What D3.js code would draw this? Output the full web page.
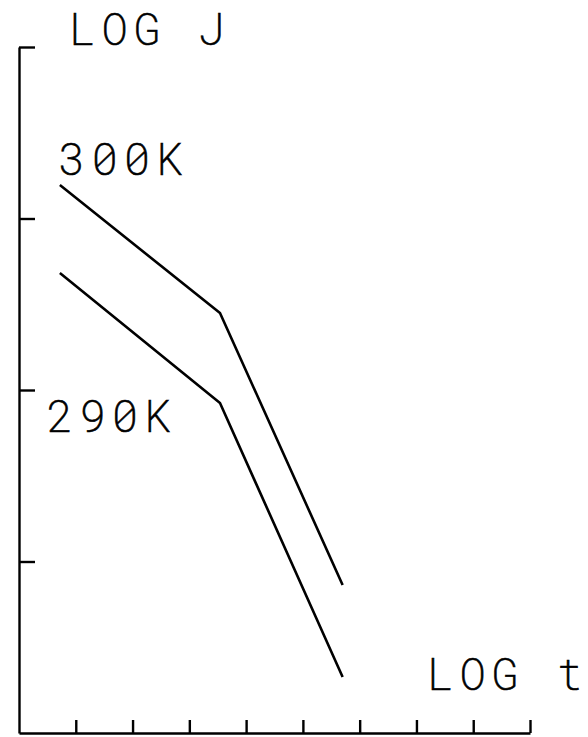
<!DOCTYPE html>
<html><head><meta charset="utf-8">
<script src="https://cdn.jsdelivr.net/npm/d3@7"></script>
<style>html,body{margin:0;padding:0;background:#fff}</style>
</head><body>
<script>
// Data (axis units: x in tick steps of LOG t, y in tick steps of LOG J)
const seriesNames = ["300K", "290K"];
const logT = [0.72, 3.54, 5.7];
const logJ300 = [3.195, 2.449, 0.863];
const logJ290 = [2.682, 1.924, 0.327];
const xTicks = [1, 2, 3, 4, 5, 6, 7, 8, 9];
const yTicks = [1, 2, 3, 4];

const W = 588, H = 737;
const svg = d3.select("body").append("svg").attr("width", W).attr("height", H);
const x = d3.scaleLinear().domain([0, 9]).range([19, 530]);
const y = d3.scaleLinear().domain([0, 4]).range([733, 47]);

const font = "'Roboto Mono', 'Noto Sans Mono', 'DejaVu Sans Mono', monospace";

const xAxis = svg.append("g").attr("transform", `translate(0,${y(0)})`)
  .call(d3.axisBottom(x).tickValues(xTicks).tickSize(-13).tickSizeOuter(0).tickFormat(""));
const yAxis = svg.append("g").attr("transform", `translate(${x(0)},0)`)
  .call(d3.axisLeft(y).tickValues(yTicks).tickSize(-16).tickSizeOuter(0).tickFormat(""));
[xAxis, yAxis].forEach(g => {
  g.selectAll("path,line").attr("stroke", "#000").attr("stroke-width", 2.4);
});

const line = d3.line().x(d => x(d[0])).y(d => y(d[1]));
[logJ300, logJ290].forEach(vals => {
  svg.append("path").datum(logT.map((t, i) => [t, vals[i]]))
    .attr("d", line).attr("fill", "none").attr("stroke", "#000")
    .attr("stroke-width", 2.6).attr("stroke-linejoin", "round");
});

function label(txt, xx, yy) {
  svg.append("text").attr("x", xx).attr("y", yy).text(txt)
    .attr("font-family", font).attr("font-size", 44).attr("font-weight", 200)
    .attr("letter-spacing", 6).attr("fill", "#000")
    .attr("stroke", "#000").attr("stroke-width", 0.6);
}
label("LOG J", 69, 45);
label(seriesNames[0], 59, 175);
label(seriesNames[1], 47, 432);
label("LOG t", 427, 690);
</script>
</body></html>
